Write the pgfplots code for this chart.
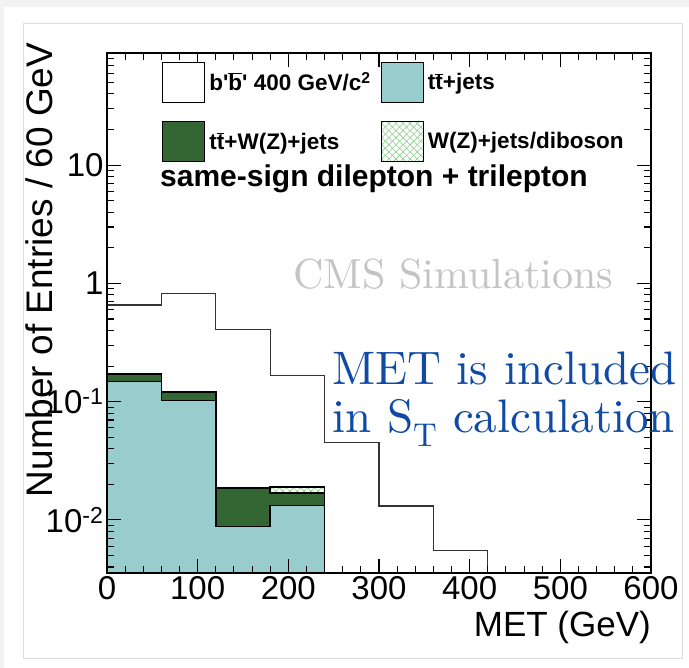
\documentclass[border=0pt]{standalone}
\usepackage{pgfplots}
\pgfplotsset{compat=1.18}
\usepackage{fontspec}
\newfontfamily\arial{Liberation Sans}
\newfontfamily\lmten{lmroman10-regular.otf}
\usetikzlibrary{patterns.meta}
\definecolor{ttcyan}{RGB}{153,204,204}
\definecolor{ttwgreen}{RGB}{51,102,51}
\definecolor{hatchgreen}{RGB}{140,205,140}
\definecolor{cmsgrey}{RGB}{196,196,196}
\definecolor{metblue}{RGB}{15,75,165}
\definecolor{bggrey}{RGB}{242,242,242}
\definecolor{framegrey}{RGB}{222,222,222}
\newcommand{\obar}[1]{\ensuremath{\overline{\hbox{#1}}}}

\begin{document}
\begin{tikzpicture}
% page background and card
\fill[bggrey] (0pt,0pt) rectangle (689pt,668pt);
\fill[white] (4pt,0pt) rectangle (689pt,661pt);
\draw[framegrey, line width=1pt] (23pt,9pt) rectangle (682pt,644pt);

\begin{axis}[
    at={(107pt,95pt)}, anchor=south west,
    scale only axis, width=544pt, height=520pt,
    ymode=log,
    xmin=0, xmax=600,
    ymin=0.00356, ymax=88.7,
    xtick={0,100,...,600},
    minor x tick num=4,
    ytick={0.01,0.1,1,10},
    yticklabels={10\textsuperscript{-2},10\textsuperscript{-1},1,10},
    minor ytick={0.004,0.005,0.006,0.007,0.008,0.009,
                 0.02,0.03,0.04,0.05,0.06,0.07,0.08,0.09,
                 0.2,0.3,0.4,0.5,0.6,0.7,0.8,0.9,
                 2,3,4,5,6,7,8,9,20,30,40,50,60,70,80},
    tick align=inside,
    major tick length=14pt,
    minor tick length=7pt,
    every tick/.style={black, line width=1.1pt},
    axis line style={line width=1.6pt},
    axis on top=true,
    /pgf/number format/assume math mode=true,
    tick label style={font=\arial\fontsize{33}{36}\selectfont},
    xlabel={MET (GeV)},
    x label style={at={(axis description cs:1,-0.123)}, anchor=base east,
        inner sep=0pt, font=\arial\fontsize{35}{40}\selectfont},
    ylabel={Number of Entries / 60 GeV},
    y label style={at={(axis description cs:-0.101,1.02)}, anchor=base east,
        inner sep=0pt, font=\arial\fontsize{37}{40}\selectfont},
    legend columns=2,
    legend style={at={(axis description cs:0.1011,0.9837)}, anchor=north west,
        draw=none, fill=none, inner sep=0pt,
        nodes={inner sep=0pt},
        cells={anchor=west},
        row sep=18pt,
        font=\arial\bfseries\fontsize{22.5}{24}\selectfont,
        /tikz/every odd column/.append style={column sep=4pt},
        /tikz/every even column/.append style={column sep=10pt}},
    legend image code/.code={\draw[#1] (0pt,-20pt) rectangle (42pt,20pt);},
]

% W(Z)+jets/diboson on top of the stack (total)
\addplot[const plot, forget plot, draw=black, line width=1.5pt, fill=white,
    postaction={pattern={Lines[angle=45,distance=5pt,line width=0.6pt]}, pattern color=hatchgreen},
    postaction={pattern={Lines[angle=-45,distance=5pt,line width=0.6pt]}, pattern color=hatchgreen}]
    coordinates {(0,0.0001)(0,0.172)(60,0.122)(120,0.0187)(180,0.0190)(240,0.0001)} -- cycle;

% ttbar+W(Z)+jets
\addplot[const plot, forget plot, draw=black, line width=1.5pt, fill=ttwgreen]
    coordinates {(0,0.0001)(0,0.1706)(60,0.121)(120,0.0185)(180,0.01683)(240,0.0001)} -- cycle;

% ttbar+jets
\addplot[const plot, forget plot, draw=black, line width=1.5pt, fill=ttcyan]
    coordinates {(0,0.0001)(0,0.1476)(60,0.102)(120,0.00877)(180,0.0132)(240,0.0001)} -- cycle;

% b'b' signal
\addplot[const plot, forget plot, draw=black!80, line width=1.2pt]
    coordinates {(0,0.0001)(0,0.656)(60,0.824)(120,0.409)(180,0.166)(240,0.045)
                 (300,0.0131)(360,0.0055)(420,0.0001)(600,0.0001)};

\addlegendimage{draw=black, line width=1.2pt, fill=white}
\addlegendentry{b\textquotesingle\obar{b}\textquotesingle{} 400 GeV/c\textsuperscript{2}}
\addlegendimage{draw=black, line width=1.2pt, fill=ttcyan}
\addlegendentry{t\obar{t}+jets}
\addlegendimage{draw=black, line width=1.2pt, fill=ttwgreen}
\addlegendentry{t\obar{t}+W(Z)+jets}
\addlegendimage{draw=black, line width=1.2pt, fill=white,
    postaction={pattern={Lines[angle=45,distance=5pt,line width=0.6pt]}, pattern color=hatchgreen},
    postaction={pattern={Lines[angle=-45,distance=5pt,line width=0.6pt]}, pattern color=hatchgreen}}
\addlegendentry{W(Z)+jets/diboson}
\end{axis}

\node[anchor=base west, inner sep=0pt, font=\arial\bfseries\fontsize{30}{34}\selectfont]
    at (160pt,481pt) {same-sign dilepton + trilepton};
\node[anchor=base west, inner sep=0pt, text=cmsgrey, font=\lmten\fontsize{42}{48}\selectfont]
    at (293pt,379pt) {CMS Simulations};
\node[anchor=base west, inner sep=0pt, text=metblue, font=\lmten\fontsize{47}{52}\selectfont]
    at (332pt,283pt) {MET is included};
\node[anchor=base west, inner sep=0pt, text=metblue, font=\lmten\fontsize{47}{52}\selectfont]
    at (332pt,235pt) {in S\textsubscript{T} calculation};

\pgfresetboundingbox
\useasboundingbox (0pt,0pt) rectangle (689pt,668pt);
\end{tikzpicture}
\end{document}
